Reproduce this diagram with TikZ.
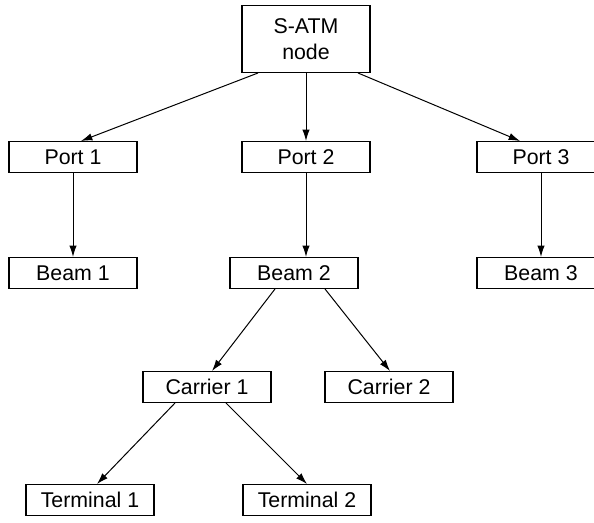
\documentclass[tikz,border=0pt]{standalone}
\usepackage{fontspec}
\setmainfont{Liberation Sans}
\usepackage{tikz}
\usetikzlibrary{calc,arrows.meta}

\begin{document}
\begin{tikzpicture}[
  x=0.75pt, y=-0.75pt,
  unitbox/.style={
    rectangle, draw=black, line width=1pt,
    minimum width=96pt, minimum height=23pt,
    inner sep=0pt, align=center,
    font=\fontsize{16}{19}\selectfont,
  },
  link/.style={
    line width=0.75pt, -{Latex[length=8.5pt,width=5.5pt]},
  },
]

\clip (0, 0) rectangle (594, 523);

\node[unitbox, minimum height=50pt] (satm) at (306, 39) {S-ATM\\node};

\node[unitbox] (p1) at (73, 157) {Port 1};
\node[unitbox] (p2) at (306, 157) {Port 2};
\node[unitbox] (p3) at (541, 157) {Port 3};

\node[unitbox] (b1) at (73, 273) {Beam 1};
\node[unitbox] (b2) at (294, 273) {Beam 2};
\node[unitbox] (b3) at (541, 273) {Beam 3};

\node[unitbox] (c1) at (207, 387) {Carrier 1};
\node[unitbox] (c2) at (389, 387) {Carrier 2};

\node[unitbox] (t1) at (90, 500) {Terminal 1};
\node[unitbox] (t2) at (307, 500) {Terminal 2};

\draw[link] ($(satm.south)+(-48,0)$) -- ($(p1.north)+(8,0)$);
\draw[link] (satm.south) -- (p2.north);
\draw[link] ($(satm.south)+(52,0)$) -- ($(p3.north)+(-21,0)$);

\draw[link] (p1.south) -- (b1.north);
\draw[link] (p2.south) -- (p2.south |- b2.north);
\draw[link] (p3.south) -- (b3.north);

\draw[link] ($(b2.south)+(-19,0)$) -- ($(c1.north)+(5,0)$);
\draw[link] ($(b2.south)+(31,0)$) -- ($(c2.north)+(1,0)$);

\draw[link] ($(c1.south)+(-32,0)$) -- ($(t1.north)+(7,0)$);
\draw[link] ($(c1.south)+(19,0)$) -- (t2.north);

\end{tikzpicture}
\end{document}
